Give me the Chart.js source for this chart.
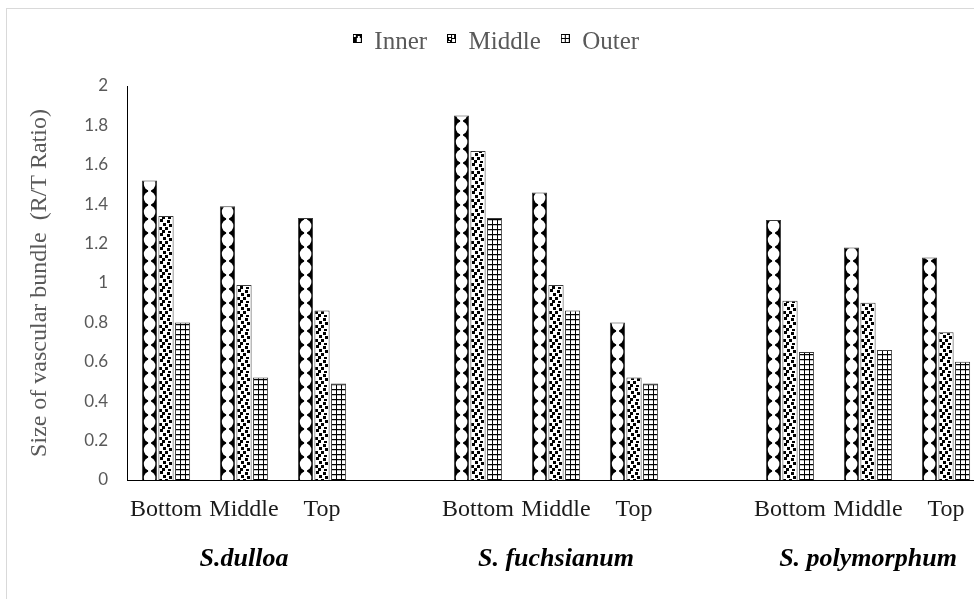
<!DOCTYPE html>
<html>
<head>
<meta charset="utf-8">
<title>Size of vascular bundle</title>
<script src="https://cdn.jsdelivr.net/npm/chart.js@4"></script>
<style>
  html, body { margin: 0; padding: 0; background: #fff; overflow: hidden; }
  #frame { position: absolute; left: 6px; top: 8px; width: 1000px; height: 640px; border: 1px solid #d9d9d9; }
  #chart { position: absolute; left: 0; top: 0; }
</style>
</head>
<body>
<div id="frame"><canvas id="chart" width="980" height="600"></canvas></div>
<script>
// categories (blank slots separate the three species)
var categories = ["Bottom", "Middle", "Top", "", "Bottom", "Middle", "Top", "", "Bottom", "Middle", "Top"];
var species = ["S.dulloa", "S. fuchsianum", "S. polymorphum"];
var speciesSlot = [1, 5, 9];

// R/T ratio
var innerValues  = [1.52, 1.39, 1.33, null, 1.85, 1.46, 0.80, null, 1.32, 1.18, 1.13];
var middleValues = [1.34, 0.99, 0.86, null, 1.67, 0.99, 0.52, null, 0.91, 0.90, 0.75];
var outerValues  = [0.80, 0.52, 0.49, null, 1.33, 0.86, 0.49, null, 0.65, 0.66, 0.60];

var yTicks = [0, 0.2, 0.4, 0.6, 0.8, 1, 1.2, 1.4, 1.6, 1.8, 2];

var CAT_PCT = 0.635;
var BAR_PCT = 0.92;

// pattern tiles, like the Excel fills
function makeTile(w, h, draw) {
    var cv = document.createElement("canvas");
    cv.width = w;
    cv.height = h;
    draw(cv.getContext("2d"), w, h);
    return cv;
}

var tiles = {
    inner: makeTile(16, 14, function (g, w, h) {
        g.fillStyle = "#000";
        g.fillRect(0, 0, w, h);
        g.fillStyle = "#fff";
        g.beginPath();
        g.ellipse(7.6, 7, 5.8, 6.4, 0, 0, Math.PI * 2);
        g.fill();
        g.fillRect(6.1, 0, 3, h);
    }),
    middle: makeTile(14, 14, function (g, w, h) {
        g.fillStyle = "#fff";
        g.fillRect(0, 0, w, h);
        g.fillStyle = "#000";
        var dots = [[2, 0], [9, 1], [5, 4], [11, 5], [1, 8], [7, 8], [4, 11], [10, 12]];
        dots.forEach(function (d) { g.fillRect(d[0], d[1], 3, 3); });
    }),
    outer: makeTile(5, 5, function (g, w, h) {
        g.fillStyle = "#fff";
        g.fillRect(0, 0, w, h);
        g.fillStyle = "#000";
        g.fillRect(0, 0, w, 1);
        g.fillRect(0, 0, 1, h);
        g.fillStyle = "#9a9a9a";
        g.fillRect(1, 1, w - 1, 0.6);
    })
};

// small legend swatches (square sits in the top half so it rides a bit high)
function legendIcon(draw) {
    return makeTile(9, 17, function (g) {
        g.fillStyle = "#000";
        g.fillRect(0, 0, 9, 9);
        g.fillStyle = "#fff";
        draw(g);
    });
}
var legendIcons = [
    legendIcon(function (g) { g.fillRect(1, 1, 2, 2); g.fillRect(4, 4, 4, 4); g.fillRect(5, 2, 2, 2); }),
    legendIcon(function (g) { g.fillRect(1, 1, 3, 2); g.fillRect(5, 1, 2, 3); g.fillRect(2, 4, 2, 2); g.fillRect(5, 5, 3, 3); g.fillRect(1, 7, 2, 1); }),
    legendIcon(function (g) { g.fillRect(1, 1, 3, 3); g.fillRect(5, 1, 3, 3); g.fillRect(1, 5, 3, 3); g.fillRect(5, 5, 3, 3); })
];

function patternFor(kind) {
    return function (c) {
        var p = c.chart.ctx.createPattern(tiles[kind], "repeat");
        if (c.type === "data" && c.chart.scales.x) {
            var xs = c.chart.scales.x;
            var catW = xs.width / categories.length;
            var groupW = catW * CAT_PCT;
            var slot = groupW / 3;
            var barW = slot * BAR_PCT;
            var center = xs.getPixelForValue(c.dataIndex) - groupW / 2 + (c.datasetIndex + 0.5) * slot;
            p.setTransform(new DOMMatrix().translate(Math.round(center - barW / 2), 0));
        }
        return p;
    };
}

var groupLabels = {
    id: "groupLabels",
    beforeInit: function (chart) {
        // leave room under the legend like the original
        var fit = chart.legend.fit;
        chart.legend.fit = function () {
            fit.call(this);
            this.height = 76;
        };
    },
    afterDraw: function (chart) {
        var ctx = chart.ctx;
        var xs = chart.scales.x;
        ctx.save();
        ctx.font = 'italic bold 26px "Liberation Serif"';
        ctx.fillStyle = "#000";
        ctx.textAlign = "center";
        ctx.textBaseline = "alphabetic";
        species.forEach(function (s, i) {
            ctx.fillText(s, xs.getPixelForValue(speciesSlot[i]), chart.chartArea.bottom + 86);
        });
        ctx.restore();
    }
};

var serif = "Liberation Serif";

new Chart(document.getElementById("chart").getContext("2d"), {
    type: "bar",
    data: {
        labels: categories,
        datasets: [
            { label: "Inner", data: innerValues, backgroundColor: patternFor("inner") },
            { label: "Middle", data: middleValues, backgroundColor: patternFor("middle") },
            { label: "Outer", data: outerValues, backgroundColor: patternFor("outer") }
        ]
    },
    options: {
        responsive: false,
        animation: false,
        events: [],
        datasets: {
            bar: {
                categoryPercentage: CAT_PCT,
                barPercentage: BAR_PCT,
                borderColor: "#3a3a3a",
                borderWidth: 1
            }
        },
        layout: { padding: { top: 1, left: 0, right: 2, bottom: 0 } },
        plugins: {
            tooltip: { enabled: false },
            legend: {
                position: "top",
                labels: {
                    usePointStyle: true,
                    boxWidth: 9,
                    boxHeight: 9,
                    padding: 20,
                    color: "#595959",
                    font: { family: serif, size: 25 },
                    generateLabels: function (chart) {
                        var items = Chart.defaults.plugins.legend.labels.generateLabels(chart);
                        items.forEach(function (it, i) { it.pointStyle = legendIcons[i]; });
                        return items;
                    }
                }
            }
        },
        scales: {
            x: {
                grid: { display: false, drawTicks: false },
                border: { color: "#000", width: 1 },
                ticks: {
                    autoSkip: false,
                    maxRotation: 0,
                    padding: 15,
                    color: "#1a1a1a",
                    font: { family: serif, size: 24 }
                },
                afterFit: function (s) { s.height = 129; }
            },
            y: {
                min: 0,
                max: 2,
                grid: { display: false, drawTicks: false },
                border: { color: "#000", width: 1 },
                afterBuildTicks: function (s) {
                    s.ticks = yTicks.map(function (v) { return { value: v }; });
                },
                ticks: {
                    padding: 19,
                    color: "#595959",
                    font: { family: "Lato", size: 17 },
                    callback: function (v) { return String(v); }
                },
                title: {
                    display: true,
                    text: "Size of vascular bundle  (R/T Ratio)",
                    color: "#595959",
                    font: { family: serif, size: 24 },
                    padding: { top: 18, bottom: 0 }
                },
                afterFit: function (s) { s.width = 120; }
            }
        }
    },
    plugins: [groupLabels]
});
</script>
</body>
</html>
